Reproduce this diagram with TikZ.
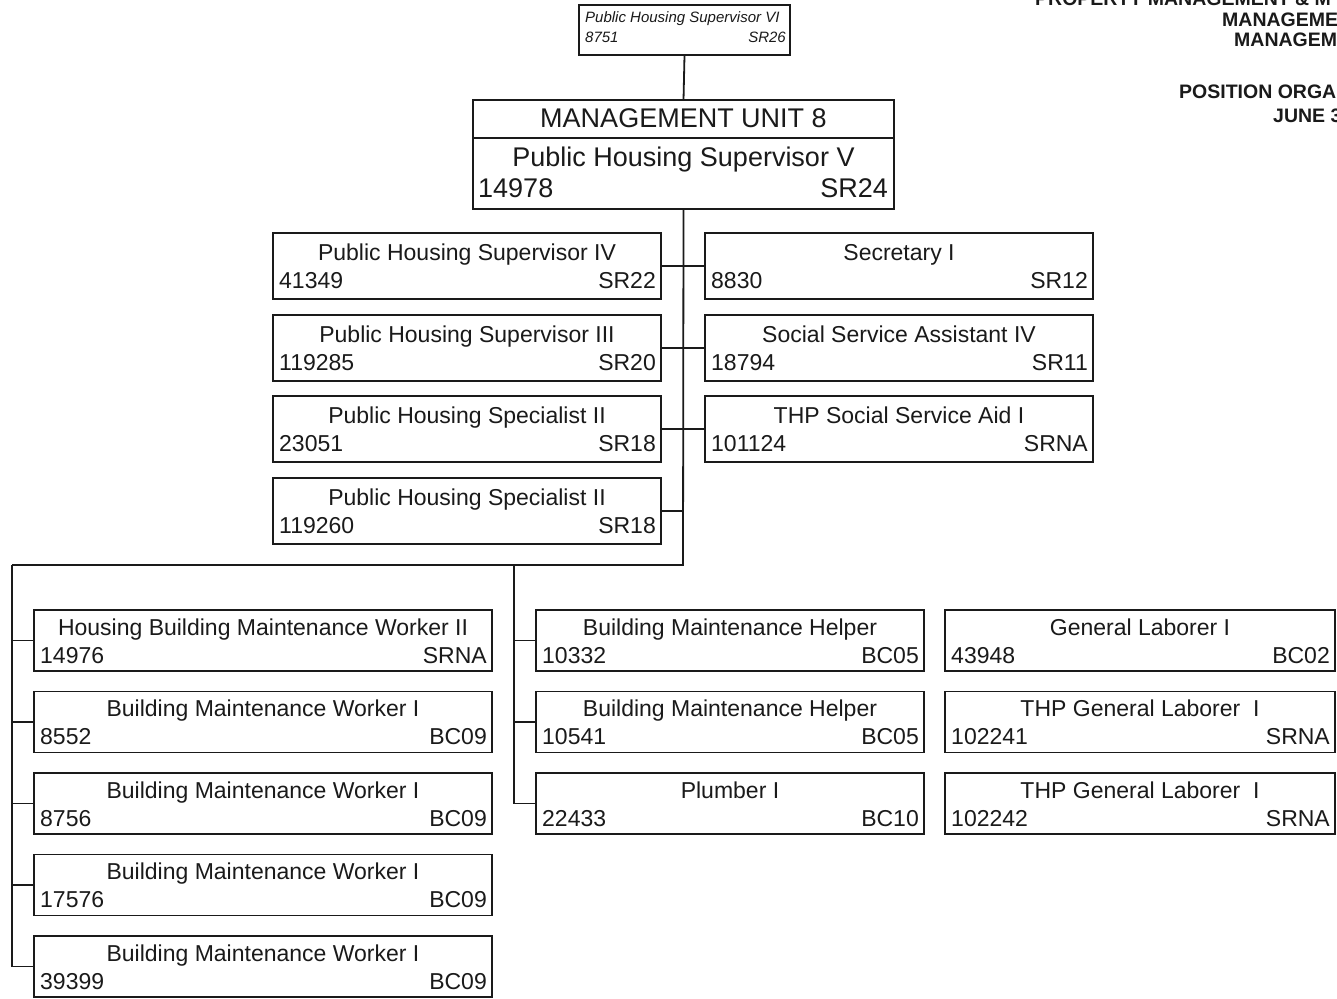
\documentclass[tikz,border=0pt]{standalone}
\usepackage{fontspec}
\setmainfont{Liberation Sans}
\usetikzlibrary{calc}
\definecolor{ink}{HTML}{1A1A1A}
\tikzset{
  box/.style={draw=ink, line width=1.8pt, inner sep=0pt, outer sep=0pt, anchor=north west},
  conn/.style={draw=ink, line width=1.8pt},
  ttl/.style={inner sep=0pt, anchor=base, text=ink, font=\fontsize{23}{27}\selectfont},
  num/.style={inner sep=0pt, anchor=base west, text=ink, font=\fontsize{23}{27}\selectfont},
  grd/.style={inner sep=0pt, anchor=base east, text=ink, font=\fontsize{23}{27}\selectfont},
  big/.style={inner sep=0pt, text=ink, font=\fontsize{27}{31}\selectfont},
  small/.style={inner sep=0pt, text=ink, font=\fontsize{15}{18}\selectfont\itshape},
  head/.style={inner sep=0pt, anchor=base west, text=ink, font=\fontsize{19.5}{22}\selectfont\bfseries},
}
% name, left x, top y, width, height, title, number, grade ; offsets from \tOff, \nOff
\newcommand\jobbox[8]{%
  \node[box, minimum width=#4pt, minimum height=#5pt] (#1) at (#2,#3) {};
  \node[ttl] (#1-t) at ([yshift=-\tOff pt]#1.north) {#6};
  \node[num] (#1-n) at ([xshift=6pt,yshift=-\nOff pt]#1.north west) {#7};
  \node[grd] (#1-g) at ([xshift=-5pt,yshift=-\nOff pt]#1.north east) {#8};
}
\begin{document}
\begin{tikzpicture}[x=1pt,y=-1pt]
\useasboundingbox (0,0) rectangle (1337,998);
\clip (0,0) rectangle (1337,998);
\fill[white] (0,0) rectangle (1337,998);

% title block (cut off at the right edge, as in the original)
\node[head] (h0) at (1035,6) {PROPERTY MANAGEMENT \& M};
\node[head] (h1) at (1222,27) {MANAGEME};
\node[head] (h2) at (1234,46) {MANAGEM};
\node[head] (h3) at (1179,98) {POSITION ORGA};
\node[head] (h4) at (1273,122) {JUNE 3};

% top supervisor
\node[box, minimum width=211pt, minimum height=50pt] (top) at (579,5) {};
\node[small, anchor=base west] (top-t) at (585,23) {Public Housing Supervisor VI};
\node[small, anchor=base west] (top-n) at (585,43) {8751};
\node[small, anchor=base east] (top-g) at (786,43) {SR26};

% management unit
\node[box, minimum width=421pt, minimum height=109pt] (mu) at (473,100) {};
\draw[conn] ([yshift=-38pt]mu.north west) -- ([yshift=-38pt]mu.north east);
\node[big, anchor=base] (mu-h) at (683.5,127.5) {MANAGEMENT UNIT 8};
\node[big, anchor=base] (mu-t) at (683.5,166) {Public Housing Supervisor V};
\node[big, anchor=base west] (mu-n) at (478,197) {14978};
\node[big, anchor=base east] (mu-g) at (888,197) {SR24};

\draw[conn] (top.south) -- (mu.north);

% staff boxes
\def\tOff{27}\def\nOff{55}
\jobbox{l1}{273}{233}{388}{66}{Public Housing Supervisor IV}{41349}{SR22}
\jobbox{l2}{273}{315}{388}{66}{Public Housing Supervisor III}{119285}{SR20}
\jobbox{l3}{273}{396}{388}{66}{Public Housing Specialist II}{23051}{SR18}
\jobbox{l4}{273}{478}{388}{66}{Public Housing Specialist II}{119260}{SR18}
\jobbox{r1}{705}{233}{388}{66}{Secretary I}{8830}{SR12}
\jobbox{r2}{705}{315}{388}{66}{Social Service Assistant IV}{18794}{SR11}
\jobbox{r3}{705}{396}{388}{66}{THP Social Service Aid I}{101124}{SRNA}

\coordinate (busR) at (683,565);
\coordinate (busL) at (12,565);
\coordinate (bus2) at (514,565);

\draw[conn] (mu.south) -- (busR) -- (busL);
\foreach \b in {l1,l2,l3,l4} \draw[conn] (\b.east) -- (\b.east -| mu.south);
\foreach \b in {r1,r2,r3} \draw[conn] (\b.west) -- (\b.west -| mu.south);

% maintenance boxes
\def\tOff{25}\def\nOff{53}
\jobbox{a1}{34}{610}{458}{61}{Housing Building Maintenance Worker II}{14976}{SRNA}
\jobbox{a2}{34}{691.5}{458}{61}{Building Maintenance Worker I}{8552}{BC09}
\jobbox{a3}{34}{773}{458}{61}{Building Maintenance Worker I}{8756}{BC09}
\jobbox{a4}{34}{854.5}{458}{61}{Building Maintenance Worker I}{17576}{BC09}
\jobbox{a5}{34}{936}{458}{61}{Building Maintenance Worker I}{39399}{BC09}
\jobbox{b1}{536}{610}{388}{61}{Building Maintenance Helper}{10332}{BC05}
\jobbox{b2}{536}{691.5}{388}{61}{Building Maintenance Helper}{10541}{BC05}
\jobbox{b3}{536}{773}{388}{61}{Plumber I}{22433}{BC10}
\jobbox{c1}{945}{610}{390}{61}{General Laborer I}{43948}{BC02}
\jobbox{c2}{945}{691.5}{390}{61}{THP General Laborer~~I}{102241}{SRNA}
\jobbox{c3}{945}{773}{390}{61}{THP General Laborer~~I}{102242}{SRNA}

\draw[conn] (busL) -- (a5.west -| busL);
\foreach \b in {a1,a2,a3,a4,a5} \draw[conn] (\b.west) -- (\b.west -| busL);
\draw[conn] (bus2) -- (b3.west -| bus2);
\foreach \b in {b1,b2,b3} \draw[conn] (\b.west) -- (\b.west -| bus2);
\end{tikzpicture}
\end{document}
